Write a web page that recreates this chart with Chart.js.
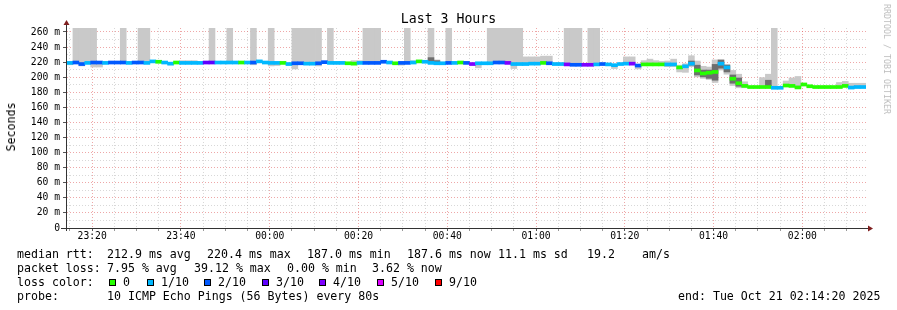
<!DOCTYPE html>
<html>
<head>
<meta charset="utf-8">
<script src="https://cdn.jsdelivr.net/npm/chart.js@4.4.1/dist/chart.umd.min.js"></script>
<style>
body { margin: 0; background: #fff; }
#wrap { position: relative; width: 897px; height: 310px; overflow: hidden; font-family: "DejaVu Sans Mono", monospace; color: #000; background: #fff; }
#chart { position: absolute; left: 0; top: 0; }
.t { position: absolute; white-space: pre; font-size: 11.6px; line-height: 14px; }
.box { position: absolute; width: 7px; height: 7px; border: 1px solid #000; box-sizing: border-box; }
#title { position: absolute; left: 0; top: 12px; width: 897px; text-align: center; font-size: 13.2px; line-height: 14px; }
#ylab { position: absolute; left: 11px; top: 127px; transform: translate(-50%, -50%) rotate(-90deg); font-size: 11.6px; white-space: pre; }
#mark { position: absolute; left: 887px; top: 59px; transform: translate(-50%, -50%) rotate(90deg); font-size: 8.3px; color: #bdbdbd; white-space: pre; }
</style>
</head>
<body>
<div id="wrap">
  <canvas id="chart" width="897" height="310"></canvas>
  <div id="title">Last 3 Hours</div>
  <div id="ylab">Seconds</div>
  <div id="mark">RRDTOOL / TOBI OETIKER</div>

  <div class="t" style="left:17px;top:247px">median rtt:</div>
  <div class="t" style="left:107px;top:247px">212.9 ms avg</div>
  <div class="t" style="left:207px;top:247px">220.4 ms max</div>
  <div class="t" style="left:307px;top:247px">187.0 ms min</div>
  <div class="t" style="left:407px;top:247px">187.6 ms now</div>
  <div class="t" style="left:498px;top:247px">11.1 ms sd</div>
  <div class="t" style="left:587px;top:247px">19.2</div>
  <div class="t" style="left:642px;top:247px">am/s</div>

  <div class="t" style="left:17px;top:261px">packet loss:</div>
  <div class="t" style="left:107px;top:261px">7.95 % avg</div>
  <div class="t" style="left:194px;top:261px">39.12 % max</div>
  <div class="t" style="left:287px;top:261px">0.00 % min</div>
  <div class="t" style="left:372px;top:261px">3.62 % now</div>

  <div class="t" style="left:17px;top:275px">loss color:</div>
  <div id="lossLegend"></div>

  <div class="t" style="left:17px;top:289px">probe:</div>
  <div class="t" style="left:107px;top:289px">10 ICMP Echo Pings (56 Bytes) every 80s</div>
  <div class="t" style="left:678px;top:289px">end: Tue Oct 21 02:14:20 2025</div>
</div>
<script>
// one sample every 80 s, 135 samples from 23:14:20 to 02:14:20
const startMinute = 14 + 20 / 60;   // minutes after 23:00
const endMinute = 194 + 20 / 60;
const sampleCount = 135;

// median rtt in ms
const median = [
  219, 219.5, 217.5, 219, 219.5, 219.5, 219, 219.5, 219.5, 219.5,
  219, 219.5, 219.5, 219, 221, 220.5, 219.5, 218, 219.5, 219,
  219, 219, 219, 219.5, 219.5, 219.5, 219.5, 219.5, 219.5, 219.5,
  219.5, 219.5, 221, 219.5, 219, 219, 219, 217.5, 218.5, 218.5,
  218, 218, 218.5, 220, 219, 219, 219, 218.5, 218, 219,
  219, 219, 219, 220.5, 219.5, 218.5, 219, 219, 219.5, 221,
  220.5, 219, 218.5, 218.5, 219, 219, 219.5, 219, 217.5, 218.5,
  218.5, 218.5, 219.5, 219.5, 219, 217.5, 217.5, 217.5, 218, 218,
  219, 218.5, 217.5, 217.5, 217, 216.5, 216.5, 216.5, 216.5, 217,
  217.5, 217, 216, 217.5, 218, 218, 215.5, 217, 217, 217,
  217, 217, 217, 213, 214.5, 218, 209, 205, 206, 207,
  218, 213, 198, 192, 188.5, 187, 187, 187, 187, 186,
  186, 189, 188.5, 186.5, 190.4, 188, 187, 187, 187, 187,
  187, 188.5, 186.3, 187, 187
];

// lost pings out of 10
const loss = [
  1, 2, 2, 1, 2, 2, 1, 2, 2, 2,
  1, 2, 2, 1, 1, 0, 1, 1, 0, 1,
  1, 1, 1, 3, 3, 1, 1, 1, 1, 0,
  1, 2, 1, 1, 1, 1, 0, 1, 2, 2,
  1, 1, 2, 2, 1, 1, 1, 0, 0, 1,
  2, 2, 2, 2, 1, 0, 2, 2, 1, 0,
  1, 1, 1, 1, 2, 1, 0, 2, 4, 1,
  1, 1, 2, 2, 4, 1, 1, 1, 1, 1,
  0, 2, 1, 1, 4, 2, 2, 4, 4, 1,
  2, 1, 1, 1, 1, 4, 2, 0, 0, 0,
  0, 1, 1, 0, 1, 1, 0, 0, 0, 0,
  1, 1, 0, 0, 0, 0, 0, 0, 0, 1,
  1, 0, 0, 0, 0, 0, 0, 0, 0, 0,
  0, 0, 1, 1, 1
];

// smoke: lowest and highest ping per sample (270 = off the top)
const smokeLo = [
  216.5, 218.5, 215, 218, 213.5, 213.5, 218, 218.5, 218.5, 218.5,
  218, 218.5, 218.5, 218, 219.5, 219, 218.5, 216.5, 218.5, 218,
  218, 218, 218, 218.5, 218.5, 218.5, 218.5, 218.5, 218.5, 218.5,
  218.5, 216.5, 219.5, 218.5, 215, 215.5, 218, 216, 211, 217,
  217, 216.5, 215, 219, 218, 218, 218, 217.5, 217, 218,
  218, 218, 218, 219.5, 218.5, 217.5, 216, 218, 218.5, 220,
  219.5, 218, 217.5, 217.5, 218, 218, 218.5, 218, 216.5, 212.5,
  217.5, 217.5, 218.5, 218.5, 218, 211.5, 216.5, 216.5, 217, 217,
  218, 217.5, 216.5, 216.5, 216, 215.5, 215.5, 215.5, 215.5, 216,
  216.5, 216, 211.5, 216.5, 217, 217, 211, 216, 216, 216,
  216, 214, 214, 207, 206.5, 214, 200.5, 198.5, 197, 193,
  209.5, 204, 189, 186, 186, 186, 186, 186, 186, 185,
  185, 187.5, 187, 185.5, 188.5, 187, 186, 186, 186, 186,
  186, 187, 185, 186, 186
];
const smokeHi = [
  220, 270, 270, 270, 270, 221, 220, 221, 220, 270,
  220, 221, 270, 270, 222, 221.5, 220.5, 219, 220.5, 222,
  222, 222, 220, 220.5, 270, 220.5, 220.5, 270, 220.5, 220.5,
  220.5, 270, 222, 220.5, 270, 220, 220, 219, 270, 270,
  270, 270, 270, 221, 270, 220, 220, 219.5, 222, 222,
  270, 270, 270, 221.5, 220.5, 219.5, 220, 270, 222, 222,
  221.5, 270, 223, 220, 270, 220, 220.5, 220, 218.5, 219.5,
  219.5, 270, 270, 270, 270, 270, 270, 227, 227, 227,
  228, 228, 219, 218.5, 270, 270, 270, 217.5, 270, 270,
  218.5, 218, 217, 218.5, 227, 227, 216.5, 222, 224, 222,
  221, 221.5, 224, 216, 218, 228.5, 221.5, 214.5, 213.5, 223,
  222, 217, 209, 204, 194, 188, 188, 199.5, 204, 270,
  187, 195, 199, 201, 191.5, 189, 188, 188, 188, 188,
  193, 194.5, 192, 192, 192
];

// dense core of the smoke where pings spread out
const coreLo = Array(sampleCount).fill(null);
const coreHi = Array(sampleCount).fill(null);
const coreRanges = [
  [61, 220, 226], [62, 219, 222],
  [105, 216, 221.5], [106, 203, 216], [107, 200.5, 209.5], [108, 198.5, 209.5],
  [109, 196, 217], [110, 212, 223], [111, 207, 216], [112, 192, 203],
  [113, 188, 199], [118, 187.5, 196]
];
coreRanges.forEach(([i, lo, hi]) => { coreLo[i] = lo; coreHi[i] = hi; });

const lossColors = { 0: '#26ff00', 1: '#00b8ff', 2: '#0059ff', 3: '#5e00ff', 4: '#7e00ff', 5: '#dd00ff', 9: '#ff0000' };
const lossLabels = ['0', '1/10', '2/10', '3/10', '4/10', '5/10', '9/10'];
const lossKeys = [0, 1, 2, 3, 4, 5, 9];
const boxX = [109, 147, 204, 262, 319, 377, 435];

// loss colour legend
const legendDiv = document.getElementById('lossLegend');
lossKeys.forEach((k, i) => {
  const b = document.createElement('div');
  b.className = 'box';
  b.style.left = boxX[i] + 'px';
  b.style.top = '279px';
  b.style.background = lossColors[k];
  legendDiv.appendChild(b);
  const t = document.createElement('div');
  t.className = 't';
  t.style.left = (boxX[i] + 14) + 'px';
  t.style.top = '275px';
  t.textContent = lossLabels[i];
  legendDiv.appendChild(t);
});

const sampleTimes = [];
for (let i = 0; i < sampleCount; i++) {
  sampleTimes.push((startMinute + (i + 0.5) * 80 / 60).toFixed(2));
}

function clockLabel(v) {
  const m = Math.round(23 * 60 + v) % 1440;
  const hh = String(Math.floor(m / 60)).padStart(2, '0');
  const mm = String(m % 60).padStart(2, '0');
  return hh + ':' + mm;
}

const MAJOR = 'rgba(222, 80, 80, 0.5)';
const MINOR = 'rgba(143, 143, 143, 0.35)';
const tickFont = { family: 'DejaVu Sans Mono', size: 9.7 };

const axisArrows = {
  id: 'axisArrows',
  afterDraw(chart) {
    const { ctx, chartArea: a } = chart;
    ctx.save();
    ctx.strokeStyle = '#333';
    ctx.lineWidth = 1;
    ctx.beginPath();
    ctx.moveTo(a.left - 0.5, a.bottom + 3);
    ctx.lineTo(a.left - 0.5, a.top - 4);
    ctx.moveTo(a.left - 6, a.bottom + 0.5);
    ctx.lineTo(a.right + 3, a.bottom + 0.5);
    ctx.stroke();
    ctx.fillStyle = '#7f1f1f';
    ctx.beginPath();
    ctx.moveTo(a.left - 0.5, a.top - 8);
    ctx.lineTo(a.left - 3.5, a.top - 3);
    ctx.lineTo(a.left + 2.5, a.top - 3);
    ctx.closePath();
    ctx.fill();
    ctx.beginPath();
    ctx.moveTo(a.right + 7, a.bottom + 0.5);
    ctx.lineTo(a.right + 2, a.bottom - 2.5);
    ctx.lineTo(a.right + 2, a.bottom + 3.5);
    ctx.closePath();
    ctx.fill();
    ctx.restore();
  }
};

const barCommon = { grouped: false, barPercentage: 1, categoryPercentage: 1, borderWidth: 0, xAxisID: 'x', yAxisID: 'y' };

const ctx = document.getElementById('chart');
new Chart(ctx, {
  type: 'bar',
  data: {
    labels: sampleTimes,
    datasets: [
      Object.assign({
        label: 'median rtt',
        data: median.map(v => [v - 2, v + 2]),
        backgroundColor: loss.map(l => lossColors[l])
      }, barCommon),
      Object.assign({
        label: 'core',
        data: coreLo.map((lo, i) => lo === null ? null : [lo, coreHi[i]]),
        backgroundColor: '#6e6e6e'
      }, barCommon),
      Object.assign({
        label: 'smoke',
        data: smokeLo.map((lo, i) => [lo, smokeHi[i]]),
        backgroundColor: '#c9c9c9'
      }, barCommon)
    ]
  },
  options: {
    responsive: false,
    animation: false,
    events: [],
    layout: { padding: { left: 0, right: 31, top: 28, bottom: 62 } },
    plugins: { legend: { display: false }, tooltip: { enabled: false } },
    scales: {
      x: { type: 'category', display: false, offset: true },
      x2: {
        type: 'linear',
        position: 'bottom',
        offset: false,
        min: startMinute,
        max: endMinute,
        afterFit(s) { s.height = 20; },
        afterBuildTicks(s) {
          const t = [];
          for (let v = 15; v <= 190; v += 5) t.push({ value: v });
          s.ticks = t;
        },
        border: { display: false, dash: [1, 2] },
        grid: {
          offset: false,
          color: c => (c.tick && c.tick.value % 20 === 0) ? MAJOR : MINOR,
          tickColor: c => (c.tick && c.tick.value % 20 === 0) ? '#555' : '#999',
          tickLength: 3
        },
        ticks: {
          autoSkip: false,
          maxRotation: 0,
          padding: 0,
          color: '#000',
          font: tickFont,
          callback: v => v % 20 === 0 ? clockLabel(v) : ''
        }
      },
      y: {
        min: 0,
        max: 265.3,
        afterFit(s) { s.width = 67; },
        afterBuildTicks(s) {
          const t = [];
          for (let v = 0; v <= 260; v += 10) t.push({ value: v });
          s.ticks = t;
        },
        border: { display: false, dash: [1, 2] },
        grid: {
          color: c => (c.tick && c.tick.value % 20 === 0) ? MAJOR : MINOR,
          tickColor: c => (c.tick && c.tick.value % 20 === 0) ? '#555' : 'rgba(0,0,0,0)',
          tickLength: 4
        },
        ticks: {
          autoSkip: false,
          padding: 3,
          color: '#000',
          font: tickFont,
          callback: v => v === 0 ? '0' : (v % 20 === 0 ? v + ' m' : '')
        }
      }
    }
  },
  plugins: [axisArrows]
});
</script>
</body>
</html>
